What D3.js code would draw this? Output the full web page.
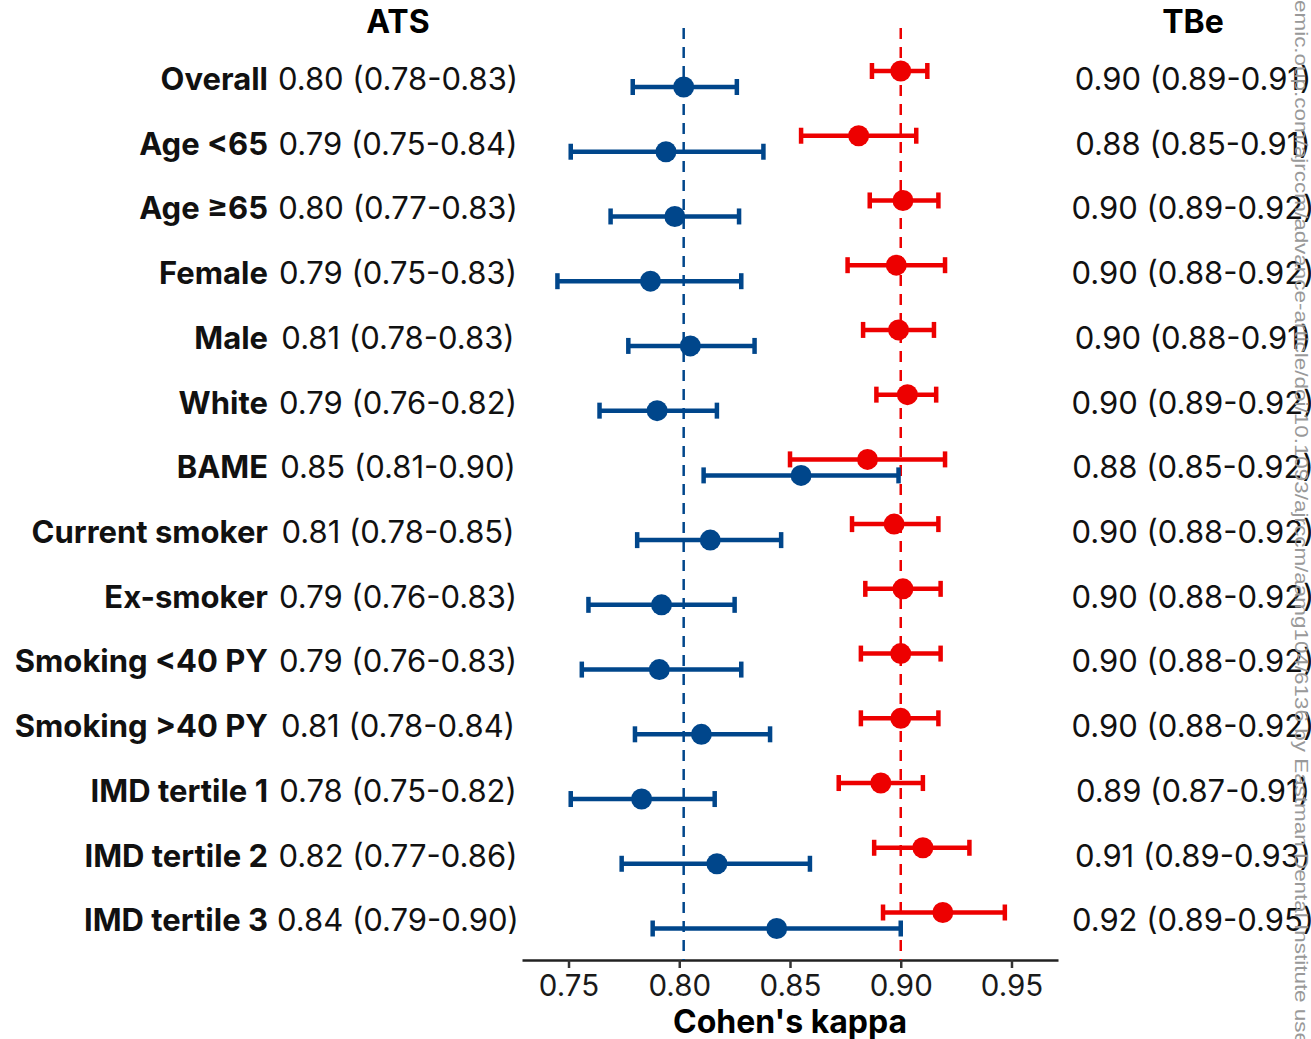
<!DOCTYPE html>
<html>
<head>
<meta charset="utf-8">
<script src="https://cdn.jsdelivr.net/npm/d3@7"></script>
<style>
  html, body { margin: 0; padding: 0; background: #fff; }
  svg { display: block; }
</style>
</head>
<body>
<svg id="chart"></svg>
<script>
// forest plot: Cohen's kappa, ATS vs TBe by subgroup

const groups = ['Overall', 'Age <65', 'Age \u226565', 'Female', 'Male', 'White', 'BAME',
  'Current smoker', 'Ex-smoker', 'Smoking <40 PY', 'Smoking >40 PY',
  'IMD tertile 1', 'IMD tertile 2', 'IMD tertile 3'];

const atsEst = [0.802, 0.794, 0.798, 0.787, 0.805, 0.790, 0.855, 0.814, 0.792, 0.791, 0.810, 0.783, 0.817, 0.844];
const atsLo  = [0.779, 0.751, 0.769, 0.745, 0.777, 0.764, 0.811, 0.781, 0.759, 0.756, 0.780, 0.751, 0.774, 0.788];
const atsHi  = [0.826, 0.838, 0.827, 0.828, 0.834, 0.817, 0.899, 0.846, 0.825, 0.828, 0.841, 0.816, 0.859, 0.900];

const tbeEst = [0.900, 0.881, 0.901, 0.898, 0.899, 0.903, 0.885, 0.897, 0.901, 0.900, 0.900, 0.891, 0.910, 0.919];
const tbeLo  = [0.887, 0.855, 0.886, 0.876, 0.883, 0.889, 0.850, 0.878, 0.884, 0.882, 0.882, 0.872, 0.888, 0.892];
const tbeHi  = [0.912, 0.907, 0.917, 0.920, 0.915, 0.916, 0.920, 0.917, 0.918, 0.918, 0.917, 0.910, 0.931, 0.947];

const atsText = ['0.80 (0.78-0.83)', '0.79 (0.75-0.84)', '0.80 (0.77-0.83)', '0.79 (0.75-0.83)',
  '0.81 (0.78-0.83)', '0.79 (0.76-0.82)', '0.85 (0.81-0.90)', '0.81 (0.78-0.85)',
  '0.79 (0.76-0.83)', '0.79 (0.76-0.83)', '0.81 (0.78-0.84)', '0.78 (0.75-0.82)',
  '0.82 (0.77-0.86)', '0.84 (0.79-0.90)'];
const tbeText = ['0.90 (0.89-0.91)', '0.88 (0.85-0.91)', '0.90 (0.89-0.92)', '0.90 (0.88-0.92)',
  '0.90 (0.88-0.91)', '0.90 (0.89-0.92)', '0.88 (0.85-0.92)', '0.90 (0.88-0.92)',
  '0.90 (0.88-0.92)', '0.90 (0.88-0.92)', '0.90 (0.88-0.92)', '0.89 (0.87-0.91)',
  '0.91 (0.89-0.93)', '0.92 (0.89-0.95)'];

const xTicks = [0.75, 0.80, 0.85, 0.90, 0.95];
const watermark = 'emic.oup.com/ajrccm/advance-article/doi/10.1093/ajrccm/aamg104/6136 by Eastman Dental Institute use';

const width = 1311, height = 1039;
const FONT = 'Inter, "Liberation Sans", Arial, sans-serif';
const BLUE = '#00468B', RED = '#ED0000';

const svg = d3.select('#chart')
  .attr('width', width)
  .attr('height', height)
  .attr('font-family', FONT);

const x = d3.scaleLinear().domain([0.729, 0.971]).range([522, 1058]);
const y = d3.scalePoint().domain(groups).range([79, 920.5]);
const off = 8;

const rows = groups.map((g, i) => ({
  g, atsEst: atsEst[i], atsLo: atsLo[i], atsHi: atsHi[i],
  tbeEst: tbeEst[i], tbeLo: tbeLo[i], tbeHi: tbeHi[i],
  atsText: atsText[i], tbeText: tbeText[i]
}));

// axis
const axisY = 960;
svg.append('g')
  .attr('transform', `translate(0,${axisY})`)
  .call(d3.axisBottom(x).tickValues(xTicks).tickFormat(d3.format('.2f')).tickSize(8).tickSizeOuter(0).tickPadding(7))
  .call(g => g.select('.domain').attr('stroke', '#222').attr('stroke-width', 2.5))
  .call(g => g.selectAll('.tick line').attr('stroke', '#333').attr('stroke-width', 2.5))
  .call(g => g.selectAll('.tick text').attr('fill', '#1a1a1a').attr('font-size', 29.5).attr('font-family', FONT));

svg.append('text')
  .attr('x', x(0.85))
  .attr('y', 1033)
  .attr('text-anchor', 'middle')
  .attr('font-size', 32)
  .attr('font-weight', 'bold')
  .text("Cohen's kappa");

// reference lines at overall estimates
const refs = [{ v: atsEst[0], c: BLUE }, { v: tbeEst[0], c: RED }];
svg.append('g').selectAll('line')
  .data(refs)
  .join('line')
    .attr('x1', d => x(d.v)).attr('x2', d => x(d.v))
    .attr('y1', 28).attr('y2', axisY)
    .attr('stroke', d => d.c)
    .attr('stroke-width', 2.5)
    .attr('stroke-dasharray', '11,8');

// error bars + points
function drawSeries(key, color, dy) {
  const g = svg.append('g').selectAll('g')
    .data(rows)
    .join('g')
      .attr('transform', d => `translate(0,${y(d.g) + dy})`);
  g.append('line')
    .attr('x1', d => x(d[key + 'Lo'])).attr('x2', d => x(d[key + 'Hi']))
    .attr('stroke', color).attr('stroke-width', 4.5);
  g.append('line')
    .attr('x1', d => x(d[key + 'Lo'])).attr('x2', d => x(d[key + 'Lo']))
    .attr('y1', -8).attr('y2', 8)
    .attr('stroke', color).attr('stroke-width', 4.5);
  g.append('line')
    .attr('x1', d => x(d[key + 'Hi'])).attr('x2', d => x(d[key + 'Hi']))
    .attr('y1', -8).attr('y2', 8)
    .attr('stroke', color).attr('stroke-width', 4.5);
  g.append('circle')
    .attr('cx', d => x(d[key + 'Est']))
    .attr('r', 10.5)
    .attr('fill', color);
}
drawSeries('ats', BLUE, off);
drawSeries('tbe', RED, -off);

// headers
const atsCol = 398, tbeCol = 1193;
svg.append('text').attr('x', atsCol).attr('y', 33).attr('text-anchor', 'middle')
  .attr('font-size', 32).attr('font-weight', 'bold').text('ATS');
svg.append('text').attr('x', tbeCol).attr('y', 33).attr('text-anchor', 'middle')
  .attr('font-size', 32).attr('font-weight', 'bold').text('TBe');

// row labels
const lab = svg.append('g').selectAll('g')
  .data(rows)
  .join('g')
    .attr('transform', d => `translate(0,${y(d.g)})`)
    .attr('font-size', 31)
    .attr('fill', '#111');
lab.append('text')
  .attr('x', 268).attr('dy', '0.35em').attr('text-anchor', 'end')
  .attr('font-weight', 'bold')
  .text(d => d.g);
lab.append('text')
  .attr('x', atsCol).attr('dy', '0.35em').attr('text-anchor', 'middle')
  .text(d => d.atsText);
lab.append('text')
  .attr('x', tbeCol).attr('dy', '0.35em').attr('text-anchor', 'middle')
  .text(d => d.tbeText);

// vertical download stamp on the right edge
svg.append('text')
  .attr('transform', 'translate(1295,0) rotate(90)')
  .attr('x', 0).attr('y', 0)
  .attr('font-family', '"Liberation Sans", Arial, sans-serif')
  .attr('font-size', 18)
  .attr('fill', '#999')
  .attr('textLength', 1045)
  .attr('lengthAdjust', 'spacingAndGlyphs')
  .text(watermark);
</script>
</body>
</html>
